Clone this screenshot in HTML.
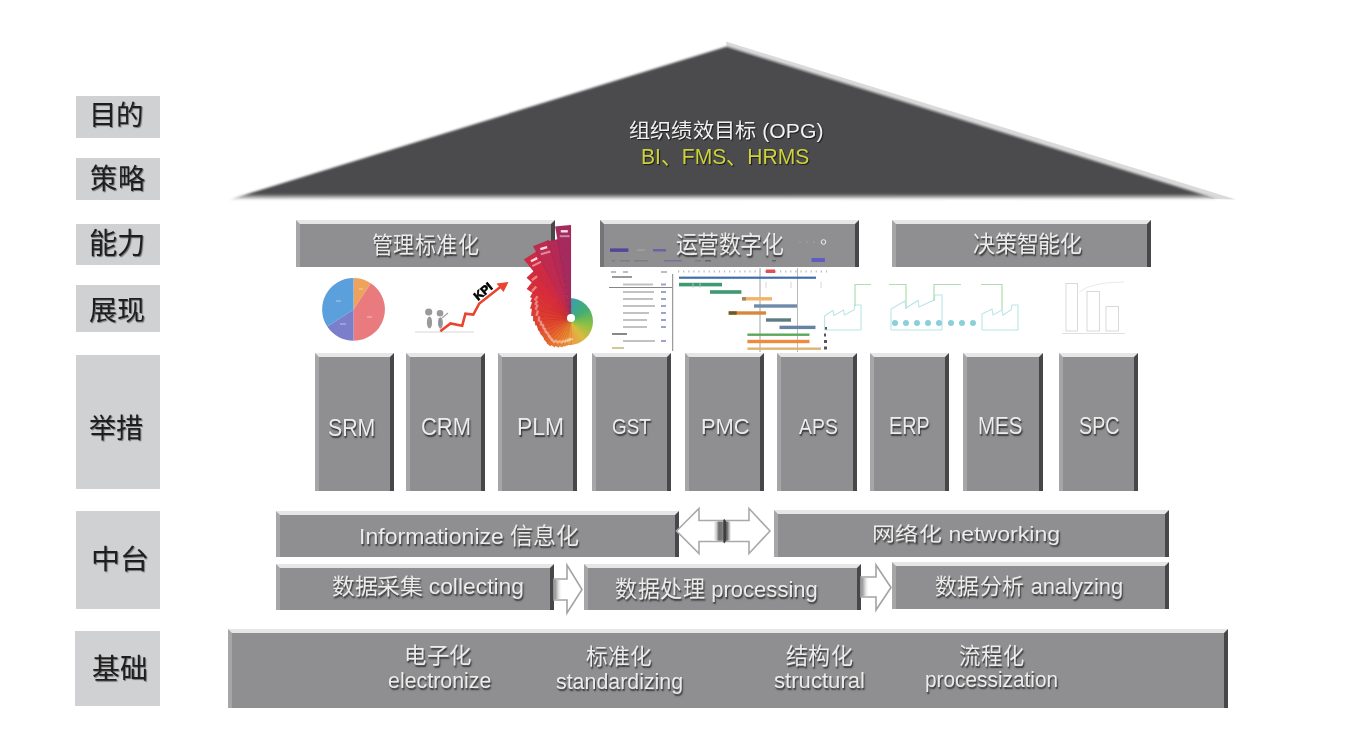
<!DOCTYPE html>
<html lang="zh-CN">
<head>
<meta charset="utf-8">
<style>
html,body{margin:0;padding:0;background:#fff;}
body{width:1348px;height:753px;position:relative;overflow:hidden;font-family:"Liberation Sans",sans-serif;}
#wrap{position:absolute;left:0;top:0;width:1348px;height:753px;filter:blur(0.4px);}
.a{position:absolute;left:0;top:0;}
.t{position:absolute;line-height:1;white-space:nowrap;transform-origin:0 0;}
.lab{position:absolute;background:#d0d1d3;}
.bx{position:absolute;box-sizing:border-box;background:#8f8f91;border-top:4px solid #e6e6e7;border-left:4px solid #a6a6a8;border-right:4px solid #47474a;}
</style>
</head>
<body>
<div id="wrap">
<div class="lab" style="left:76px;top:96px;width:84px;height:42px;"></div>
<div class="lab" style="left:76px;top:158px;width:84px;height:42px;"></div>
<div class="lab" style="left:76px;top:224px;width:84px;height:41px;"></div>
<div class="lab" style="left:76px;top:285px;width:84px;height:47px;"></div>
<div class="lab" style="left:76px;top:355px;width:84px;height:134px;"></div>
<div class="lab" style="left:76px;top:511px;width:84px;height:98px;"></div>
<div class="lab" style="left:75px;top:631px;width:85px;height:75px;"></div>
<div class="t" style="left:89.0px;top:102.25px;font-size:27.5px;font-weight:500;color:#1e1e1e;text-shadow:1px 1px 1px rgba(0,0,0,.45);transform:scaleX(1.0);">目的</div>
<div class="t" style="left:89.55px;top:164.75px;font-size:28.5px;font-weight:500;color:#1e1e1e;text-shadow:1px 1px 1px rgba(0,0,0,.45);transform:scaleX(0.9545);">策略</div>
<div class="t" style="left:89.05px;top:230.0px;font-size:29.0px;font-weight:500;color:#1e1e1e;text-shadow:1px 1px 1px rgba(0,0,0,.45);transform:scaleX(0.9755);">能力</div>
<div class="t" style="left:89.48px;top:297.0px;font-size:27.5px;font-weight:500;color:#1e1e1e;text-shadow:1px 1px 1px rgba(0,0,0,.45);transform:scaleX(1.0192);">展现</div>
<div class="t" style="left:89.02px;top:414.5px;font-size:27.75px;font-weight:500;color:#1e1e1e;text-shadow:1px 1px 1px rgba(0,0,0,.45);transform:scaleX(0.9759);">举措</div>
<div class="t" style="left:91.24px;top:547.4px;font-size:26.75px;font-weight:500;color:#1e1e1e;text-shadow:1px 1px 1px rgba(0,0,0,.45);transform:scaleX(1.0875);">中台</div>
<div class="t" style="left:91.51px;top:656.25px;font-size:28.0px;font-weight:500;color:#1e1e1e;text-shadow:1px 1px 1px rgba(0,0,0,.45);transform:scaleX(0.9943);">基础</div>
<svg class="a" width="1348" height="215" style="position:absolute">
<defs>
<linearGradient id="bot" x1="0" y1="0" x2="0" y2="1"><stop offset="0" stop-color="#4b4c4e" stop-opacity="1"/><stop offset="1" stop-color="#4b4c4e" stop-opacity="0"/></linearGradient>
<filter id="bl" x="-5%" y="-5%" width="110%" height="110%"><feGaussianBlur stdDeviation="0.8"/></filter>
</defs>
<linearGradient id="tf" gradientUnits="userSpaceOnUse" x1="0" y1="0" x2="0" y2="200"><stop offset="0.968" stop-color="#4b4c4e"/><stop offset="1" stop-color="#4b4c4e" stop-opacity="0"/></linearGradient>
<polygon points="726,41.5 1236,199.5 1212,199 726.7,46.5" fill="#dadada"/>
<polygon points="228,200 726.7,46.5 1217,199" fill="url(#tf)" filter="url(#bl)"/>
</svg>
<div class="t" style="left:628.94px;top:120.5px;font-size:20.0px;font-weight:400;color:#f2f2f2;text-shadow:1px 1px 1px #1a1a1a;transform:scaleX(1.0608);">组织绩效目标 (OPG)</div>
<div class="t" style="left:641.1px;top:146.0px;font-size:22.25px;font-weight:400;color:#cdd23c;text-shadow:1px 1px 1px #1a1a1a;transform:scaleX(0.9486);">BI、FMS、HRMS</div>
<svg class="a" width="1348" height="753" style="position:absolute"><path d="M353.5,309.4 L353.50,278.00 A31.4,31.4 0 0 1 370.88,283.25 Z" fill="#eda35c"/><path d="M353.5,309.4 L370.88,283.25 A31.4,31.4 0 0 1 353.50,340.80 Z" fill="#e97b7f"/><path d="M353.5,309.4 L353.50,340.80 A31.4,31.4 0 0 1 327.23,326.59 Z" fill="#7b7fcb"/><path d="M353.5,309.4 L327.23,326.59 A31.4,31.4 0 0 1 353.50,278.00 Z" fill="#5b9fdc"/><g fill="#fff" opacity="0.25"><rect x="336" y="300" width="5" height="2"/><rect x="359" y="288" width="4" height="2"/><rect x="367" y="316" width="5" height="2"/><rect x="340" y="323" width="6" height="2"/></g><line x1="415" y1="332" x2="474" y2="332" stroke="#d6d6d6" stroke-width="1"/><g fill="#9a9a9a"><circle cx="428.7" cy="312" r="3.6"/><ellipse cx="429.5" cy="322.5" rx="2.6" ry="6"/><circle cx="440" cy="313.3" r="3.3"/><ellipse cx="440.5" cy="323" rx="2.4" ry="5.8"/></g><path d="M442,318 L448,313" stroke="#9aaaa0" stroke-width="1.2"/><rect x="438.5" y="318" width="2" height="8" fill="#8a86b8" opacity="0.7"/><polyline points="440.3,331.3 450.5,323.4 462.2,325.8 465.4,313.7 473.3,314.6 479.3,303.5 501,286.5" fill="none" stroke="#e9442f" stroke-width="2.6" stroke-linejoin="miter"/><polygon points="508.5,282 496.5,283.5 503.5,292" fill="#e9442f"/><text x="0" y="0" transform="translate(478,301) rotate(-40)" font-family="Liberation Sans" font-weight="700" font-size="12" fill="#000" stroke="#000" stroke-width="0.7">KPI</text><line x1="672.7" y1="274" x2="672.7" y2="351" stroke="#777" stroke-width="0.9"/><line x1="609" y1="287.5" x2="672" y2="287.5" stroke="#666" stroke-width="0.8"/><line x1="760" y1="268" x2="760" y2="352" stroke="#8a8a8a" stroke-width="0.8"/><line x1="797.5" y1="268" x2="797.5" y2="352" stroke="#aaa" stroke-width="0.8"/><rect x="678.0" y="270.5" width="1.2" height="2" fill="#bbb"/><rect x="683.1" y="270.5" width="1.2" height="2" fill="#bbb"/><rect x="688.2" y="270.5" width="1.2" height="2" fill="#bbb"/><rect x="693.3" y="270.5" width="1.2" height="2" fill="#bbb"/><rect x="698.4" y="270.5" width="1.2" height="2" fill="#bbb"/><rect x="703.5" y="270.5" width="1.2" height="2" fill="#bbb"/><rect x="708.6" y="270.5" width="1.2" height="2" fill="#bbb"/><rect x="713.7" y="270.5" width="1.2" height="2" fill="#bbb"/><rect x="718.8" y="270.5" width="1.2" height="2" fill="#bbb"/><rect x="723.9" y="270.5" width="1.2" height="2" fill="#bbb"/><rect x="729.0" y="270.5" width="1.2" height="2" fill="#bbb"/><rect x="734.1" y="270.5" width="1.2" height="2" fill="#bbb"/><rect x="739.2" y="270.5" width="1.2" height="2" fill="#bbb"/><rect x="744.3" y="270.5" width="1.2" height="2" fill="#bbb"/><rect x="749.4" y="270.5" width="1.2" height="2" fill="#bbb"/><rect x="754.5" y="270.5" width="1.2" height="2" fill="#bbb"/><rect x="759.6" y="270.5" width="1.2" height="2" fill="#bbb"/><rect x="764.7" y="270.5" width="1.2" height="2" fill="#bbb"/><rect x="769.8" y="270.5" width="1.2" height="2" fill="#bbb"/><rect x="774.9" y="270.5" width="1.2" height="2" fill="#bbb"/><rect x="780.0" y="270.5" width="1.2" height="2" fill="#bbb"/><rect x="785.1" y="270.5" width="1.2" height="2" fill="#bbb"/><rect x="790.2" y="270.5" width="1.2" height="2" fill="#bbb"/><rect x="795.3" y="270.5" width="1.2" height="2" fill="#bbb"/><rect x="800.4" y="270.5" width="1.2" height="2" fill="#bbb"/><rect x="805.5" y="270.5" width="1.2" height="2" fill="#bbb"/><rect x="810.6" y="270.5" width="1.2" height="2" fill="#bbb"/><rect x="815.7" y="270.5" width="1.2" height="2" fill="#bbb"/><rect x="820.8" y="270.5" width="1.2" height="2" fill="#bbb"/><rect x="825.9" y="270.5" width="1.2" height="2" fill="#bbb"/><rect x="766" y="269.5" width="9" height="3.5" fill="#e05050"/><g fill="#bdbdbd"><rect x="611" y="271" width="5" height="2"/><rect x="623" y="271" width="5" height="2"/><rect x="661" y="271" width="6" height="2"/></g><rect x="612" y="276" width="20" height="2" fill="#999"/><rect x="623" y="283.5" width="30" height="2" fill="#c2c2c2"/><rect x="661" y="283.5" width="5" height="2" fill="#9aa3c8"/><rect x="623" y="291" width="31" height="2" fill="#c2c2c2"/><rect x="661" y="291" width="5" height="2" fill="#9aa3c8"/><rect x="623" y="298" width="30" height="2" fill="#c2c2c2"/><rect x="661" y="298" width="5" height="2" fill="#9aa3c8"/><rect x="623" y="305" width="32" height="2" fill="#c2c2c2"/><rect x="661" y="305" width="5" height="2" fill="#9aa3c8"/><rect x="623" y="312" width="26" height="2" fill="#c2c2c2"/><rect x="661" y="312" width="5" height="2" fill="#9aa3c8"/><rect x="623" y="319" width="24" height="2" fill="#c2c2c2"/><rect x="661" y="319" width="5" height="2" fill="#9aa3c8"/><rect x="623" y="326" width="24" height="2" fill="#c2c2c2"/><rect x="661" y="326" width="5" height="2" fill="#9aa3c8"/><rect x="612" y="333" width="15" height="2" fill="#888"/><rect x="623" y="340" width="32" height="2" fill="#c2c2c2"/><rect x="661" y="340" width="5" height="2" fill="#9aa3c8"/><rect x="612" y="347" width="12" height="2" fill="#cc9"/><rect x="679" y="276.60" width="137.0" height="2.2" fill="#3f6ea9"/><rect x="679" y="282.80" width="43.0" height="3.6" fill="#3d9a72"/><rect x="710" y="290.20" width="31.4" height="3.6" fill="#3f9a74"/><rect x="742" y="297.10" width="30.0" height="3.4" fill="#f2b466"/><rect x="754" y="304.30" width="43.0" height="3.4" fill="#6f8bab"/><rect x="728.7" y="311.30" width="37.3" height="3.4" fill="#d8863a"/><rect x="766" y="318.30" width="25.0" height="3.4" fill="#5b7c80"/><rect x="779.5" y="325.70" width="36.0" height="3.4" fill="#6583a3"/><rect x="747.4" y="333.50" width="62.1" height="2.4" fill="#5aa85a"/><rect x="747.4" y="339.80" width="62.1" height="3.4" fill="#ec8c3c"/><rect x="747.4" y="347.50" width="73.6" height="2.4" fill="#dcb474"/><rect x="728.7" y="311.3" width="8" height="3.4" fill="#6a5a2a"/><rect x="742" y="297.1" width="4" height="3.4" fill="#9a8a6a"/><g fill="#555"><rect x="824" y="327" width="3" height="3"/><rect x="824" y="333.5" width="2" height="3"/><rect x="824" y="340" width="3" height="3"/><rect x="824" y="346.5" width="3" height="3"/></g><line x1="693" y1="282" x2="693" y2="288" stroke="#ccc" stroke-width="0.8"/><line x1="700" y1="282" x2="700" y2="288" stroke="#ccc" stroke-width="0.8"/><line x1="766" y1="282" x2="766" y2="288" stroke="#ccc" stroke-width="0.8"/><line x1="791" y1="282" x2="791" y2="288" stroke="#ccc" stroke-width="0.8"/><line x1="821" y1="282" x2="821" y2="288" stroke="#ccc" stroke-width="0.8"/><polyline points="824.5,330 824.5,316 833,310.5 834,315.5 843.5,310 844.5,315 854,310 855,305 861,305 861,330 824.5,330" fill="none" stroke="#b8e6e8" stroke-width="1.1"/><polyline points="855,306 855,284.5 871,284.5" fill="none" stroke="#b0dcb0" stroke-width="1.2"/><polyline points="889,284.5 906,284.5 906,309" fill="none" stroke="#b0dcb0" stroke-width="1.2"/><polyline points="891,330 891,309 905,301 906,308 918,300.5 919,307 934,300 935,295 942,295 942,330 891,330" fill="none" stroke="#b8e6e8" stroke-width="1.1"/><polyline points="934,301 934,284.5 961,284.5" fill="none" stroke="#b0dcb0" stroke-width="1.2"/><polyline points="981,284.5 1002,284.5 1002,310" fill="none" stroke="#b0dcb0" stroke-width="1.2"/><circle cx="895" cy="323" r="3" fill="#8ccfd9"/><circle cx="906" cy="323" r="3" fill="#8ccfd9"/><circle cx="917" cy="323" r="3" fill="#8ccfd9"/><circle cx="928" cy="323" r="3" fill="#8ccfd9"/><circle cx="939" cy="323" r="3" fill="#8ccfd9"/><circle cx="951" cy="323" r="3" fill="#8ccfd9"/><circle cx="962" cy="323" r="3" fill="#8ccfd9"/><circle cx="973" cy="323" r="3" fill="#8ccfd9"/><polyline points="982,330 982,314 992,309 993,315 1002,310 1003,315 1011,310 1012,305 1018,305 1018,330 982,330" fill="none" stroke="#b8e6e8" stroke-width="1.1"/><rect x="1066" y="283.5" width="11.5" height="47.5" fill="none" stroke="#d9d9d9" stroke-width="1"/><rect x="1087" y="291.5" width="12.5" height="39.5" fill="none" stroke="#d9d9d9" stroke-width="1"/><rect x="1106" y="306.5" width="12.5" height="24.5" fill="none" stroke="#d9d9d9" stroke-width="1"/><line x1="1062" y1="333.5" x2="1125" y2="333.5" stroke="#e0e0e0" stroke-width="1.2"/><path d="M1079,292 Q1092,282 1124,282" fill="none" stroke="#e6e6e6" stroke-width="0.9"/></svg>
<div class="bx" style="left:296px;top:220px;width:259px;height:47px;"></div>
<div class="bx" style="left:600px;top:220px;width:259px;height:47px;border-left-color:#747476;"></div>
<div class="bx" style="left:892px;top:220px;width:259px;height:47px;"></div>
<div style="position:absolute;left:545.5px;top:297.5px;width:47px;height:47px;border-radius:50%;background:conic-gradient(from 0deg,#3a9fb0,#45ae70 55deg,#8cc044 100deg,#d8bc40 140deg,#f09844 180deg,#e8703a 230deg,#d83a3a 300deg,#3a9fb0)"></div>
<svg class="a" width="1348" height="753" style="position:absolute"><polygon points="571,318 567.2,344.7 571.4,345.0" fill="#f09a38" stroke="rgba(120,20,30,0.18)" stroke-width="0.6"/><rect x="566.0" y="337.7" width="7" height="2.4" fill="#fff" opacity="0.4" transform="rotate(-172 569.5 338.9)"/><polygon points="571,318 565.2,345.3 567.5,345.7" fill="#ef9536" stroke="rgba(120,20,30,0.18)" stroke-width="0.6"/><rect x="563.8" y="338.4" width="7" height="2.4" fill="#fff" opacity="0.4" transform="rotate(-168 567.3 339.6)"/><polygon points="571,318 562.5,345.7 565.4,346.4" fill="#ee8f34" stroke="rgba(120,20,30,0.18)" stroke-width="0.6"/><rect x="561.8" y="339.1" width="7" height="2.4" fill="#fff" opacity="0.4" transform="rotate(-163 565.3 340.3)"/><polygon points="571,318 559.1,346.0 562.5,347.2" fill="#ed8832" stroke="rgba(120,20,30,0.18)" stroke-width="0.6"/><rect x="559.2" y="339.7" width="7" height="2.4" fill="#fff" opacity="0.4" transform="rotate(-157 562.7 340.9)"/><polygon points="571,318 555.0,345.7 558.9,347.6" fill="#ec8030" stroke="rgba(120,20,30,0.18)" stroke-width="0.6"/><rect x="555.9" y="340.1" width="7" height="2.4" fill="#fff" opacity="0.4" transform="rotate(-150 559.4 341.3)"/><polygon points="571,318 550.8,344.8 554.7,347.2" fill="#ea772f" stroke="rgba(120,20,30,0.18)" stroke-width="0.6"/><rect x="552.3" y="339.7" width="7" height="2.4" fill="#fff" opacity="0.4" transform="rotate(-143 555.8 340.9)"/><polygon points="571,318 546.7,343.2 550.3,346.2" fill="#e96e2f" stroke="rgba(120,20,30,0.18)" stroke-width="0.6"/><rect x="548.7" y="338.9" width="7" height="2.4" fill="#fff" opacity="0.4" transform="rotate(-136 552.2 340.1)"/><polygon points="571,318 543.8,339.3 547.4,343.2" fill="#e7642e" stroke="rgba(120,20,30,0.18)" stroke-width="0.6"/><rect x="546.3" y="335.9" width="7" height="2.4" fill="#fff" opacity="0.4" transform="rotate(-128 549.8 337.1)"/><polygon points="571,318 541.3,334.5 544.5,339.3" fill="#e5592e" stroke="rgba(120,20,30,0.18)" stroke-width="0.6"/><rect x="544.1" y="332.2" width="7" height="2.4" fill="#fff" opacity="0.4" transform="rotate(-119 547.6 333.4)"/><polygon points="571,318 538.6,329.8 541.1,335.1" fill="#e4512e" stroke="rgba(120,20,30,0.18)" stroke-width="0.6"/><rect x="541.5" y="328.6" width="7" height="2.4" fill="#fff" opacity="0.4" transform="rotate(-110 545.0 329.8)"/><polygon points="571,318 536.6,324.7 538.3,330.4" fill="#e2492f" stroke="rgba(120,20,30,0.18)" stroke-width="0.6"/><rect x="539.5" y="324.5" width="7" height="2.4" fill="#fff" opacity="0.4" transform="rotate(-101 543.0 325.7)"/><polygon points="571,318 534.7,320.5 535.4,325.4" fill="#e0432f" stroke="rgba(120,20,30,0.18)" stroke-width="0.6"/><rect x="537.4" y="320.8" width="7" height="2.4" fill="#fff" opacity="0.4" transform="rotate(-94 540.9 322.0)"/><polygon points="571,318 533.1,315.3 533.1,321.2" fill="#df3e30" stroke="rgba(120,20,30,0.18)" stroke-width="0.6"/><rect x="535.5" y="316.8" width="7" height="2.4" fill="#fff" opacity="0.4" transform="rotate(-86 539.0 318.0)"/><polygon points="571,318 532.1,308.3 531.0,315.8" fill="#de3a31" stroke="rgba(120,20,30,0.18)" stroke-width="0.6"/><rect x="533.8" y="311.4" width="7" height="2.4" fill="#fff" opacity="0.4" transform="rotate(-76 537.3 312.6)"/><polygon points="571,318 532.3,301.6 530.1,308.4" fill="#dc3633" stroke="rgba(120,20,30,0.18)" stroke-width="0.6"/><rect x="533.4" y="305.3" width="7" height="2.4" fill="#fff" opacity="0.4" transform="rotate(-67 536.9 306.5)"/><polygon points="571,318 532.3,297.4 530.4,301.4" fill="#dc3433" stroke="rgba(120,20,30,0.18)" stroke-width="0.6"/><rect x="533.3" y="300.6" width="7" height="2.4" fill="#fff" opacity="0.4" transform="rotate(-62 536.8 301.8)"/><polygon points="571,318 532.9,292.3 530.1,297.0" fill="#db3235" stroke="rgba(120,20,30,0.18)" stroke-width="0.6"/><rect x="533.2" y="296.2" width="7" height="2.4" fill="#fff" opacity="0.4" transform="rotate(-56 536.7 297.4)"/><polygon points="571,318 532.2,281.9 526.7,289.0" fill="#d92e37" stroke="rgba(120,20,30,0.18)" stroke-width="0.6"/><rect x="530.8" y="287.5" width="7" height="2.4" fill="#fff" opacity="0.4" transform="rotate(-47 534.3 288.7)"/><polygon points="571,318 534.1,270.7 526.6,277.7" fill="#d62b3b" stroke="rgba(120,20,30,0.18)" stroke-width="0.6"/><rect x="531.1" y="276.9" width="7" height="2.4" fill="#fff" opacity="0.4" transform="rotate(-38 534.6 278.1)"/><polygon points="571,318 537.0,251.2 524.0,259.5" fill="#ce2a44" stroke="rgba(120,20,30,0.18)" stroke-width="0.6"/><rect x="530.6" y="258.5" width="7" height="2.4" fill="#fff" opacity="0.85" transform="rotate(-27 534.1 259.7)"/><rect x="531.8" y="262.9" width="10" height="2" fill="#fff" opacity="0.45" transform="rotate(-27 536.8 263.9)"/><polygon points="571,318 548.7,240.1 533.2,246.3" fill="#be2a50" stroke="rgba(120,20,30,0.18)" stroke-width="0.6"/><rect x="540.2" y="246.9" width="7" height="2.4" fill="#fff" opacity="0.85" transform="rotate(-16 543.7 248.1)"/><rect x="540.6" y="251.8" width="10" height="2" fill="#fff" opacity="0.45" transform="rotate(-16 545.6 252.8)"/><polygon points="571,318 558.5,239.0 547.9,241.4" fill="#b32a56" stroke="rgba(120,20,30,0.18)" stroke-width="0.6"/><polygon points="571,318 571.0,225.0 555.2,226.4" fill="#a52a5e" stroke="rgba(120,20,30,0.18)" stroke-width="0.6"/><rect x="560.8" y="230.1" width="7" height="2.4" fill="#fff" opacity="0.85" transform="rotate(0 564.3 231.3)"/><rect x="559.7" y="235.2" width="10" height="2" fill="#fff" opacity="0.45" transform="rotate(0 564.7 236.2)"/></svg>
<div style="position:absolute;left:567px;top:314px;width:8px;height:8px;border-radius:50%;background:#fff"></div>
<svg class="a" width="1348" height="753" style="position:absolute"><rect x="610" y="248.4" width="18.4" height="3.5" fill="#4a3f98" opacity="0.9"/><rect x="653" y="249" width="13" height="2.5" fill="#5a50a8" opacity="0.7"/><rect x="637" y="249.3" width="8" height="1.6" fill="#aaa" opacity="0.6"/><rect x="811.5" y="258" width="13.4" height="4" fill="#5a58c8" opacity="0.9"/><g fill="#777" opacity="0.7"><rect x="612" y="260" width="3" height="1.5"/><rect x="620" y="260" width="10" height="1.5"/><rect x="634" y="260" width="14" height="1.5"/><rect x="664" y="260" width="18" height="1.5" fill="#6a6aa0"/><rect x="695" y="260" width="6" height="1.5"/><rect x="705" y="260" width="6" height="1.5" fill="#555"/><rect x="772" y="260" width="4" height="1.5" fill="#555"/></g><circle cx="823.5" cy="242" r="2.3" fill="none" stroke="#eee" stroke-width="1"/><g fill="#aaa" opacity="0.6"><rect x="799" y="241.5" width="2" height="1.2"/><rect x="806" y="241.5" width="2" height="1.2"/><rect x="813" y="241.5" width="2" height="1.2"/></g></svg>
<div class="bx" style="left:314.5px;top:352.5px;width:79.5px;height:138.5px;"></div>
<div class="bx" style="left:405.5px;top:352.5px;width:79.5px;height:138.5px;"></div>
<div class="bx" style="left:497.5px;top:352.5px;width:79.5px;height:138.5px;"></div>
<div class="bx" style="left:591.5px;top:352.5px;width:79.5px;height:138.5px;"></div>
<div class="bx" style="left:685px;top:352.5px;width:79px;height:138.5px;"></div>
<div class="bx" style="left:777px;top:352.5px;width:80px;height:138.5px;"></div>
<div class="bx" style="left:870px;top:352.5px;width:79px;height:138.5px;"></div>
<div class="bx" style="left:963px;top:352.5px;width:80px;height:138.5px;"></div>
<div class="bx" style="left:1058.5px;top:352.5px;width:79.5px;height:138.5px;"></div>
<div class="bx" style="left:276px;top:510.5px;width:402.5px;height:46.5px;"></div>
<div class="bx" style="left:774px;top:509.5px;width:395px;height:47px;"></div>
<div class="bx" style="left:276px;top:563.5px;width:278px;height:46.5px;"></div>
<div class="bx" style="left:583.5px;top:563.5px;width:277.5px;height:46.5px;"></div>
<div class="bx" style="left:892px;top:562px;width:277px;height:46.5px;"></div>
<div class="bx" style="left:228px;top:629px;width:1000px;height:79px;"></div>
<svg class="a" width="1348" height="753" style="position:absolute">
<defs>
<linearGradient id="mg" x1="0" y1="0" x2="1" y2="0">
<stop offset="0" stop-color="#fff"/><stop offset="0.18" stop-color="#c8c8c8"/><stop offset="0.3" stop-color="#6e6e6e"/><stop offset="0.5" stop-color="#7a7a7a"/><stop offset="0.56" stop-color="#9a9a9a"/><stop offset="0.62" stop-color="#4a4a4a"/><stop offset="0.78" stop-color="#6a6a6a"/><stop offset="1" stop-color="#fff"/>
</linearGradient>
<linearGradient id="sg" x1="0" y1="0" x2="1" y2="0">
<stop offset="0" stop-color="#8a8a8a"/><stop offset="0.4" stop-color="#cfcfcf"/><stop offset="1" stop-color="#fff" stop-opacity="0"/>
</linearGradient>
</defs>
<polygon points="676.5,531 699,508.5 699,520.5 749,520.5 749,508.5 770,531 749,553.5 749,541.5 699,541.5 699,553.5" fill="#fff" stroke="#a9a9a9" stroke-width="1.6" stroke-linejoin="miter"/>
<rect x="713.5" y="521.5" width="17.5" height="19.2" fill="url(#mg)"/>
<polygon points="723.3,520 724.3,519 726,521 726,541 724.3,543.5 723.3,542" fill="#3f3f3f"/>
<polygon points="554,579 567,579 567,565 582,589.5 567,613 567,600 554,600" fill="#fff" stroke="#a3a3a3" stroke-width="1.6"/>
<rect x="554.5" y="579.8" width="8" height="19.4" fill="url(#sg)"/>
<polygon points="861,577 876,577 876,565 891,587.5 876,610 876,597 861,597" fill="#fff" stroke="#a3a3a3" stroke-width="1.6"/>
<rect x="861.5" y="577.8" width="8" height="18.4" fill="url(#sg)"/>
</svg>
<div class="t" style="left:371.57px;top:235.0px;font-size:22.5px;font-weight:400;color:#ececec;text-shadow:1px 1.5px 1.5px rgba(35,35,35,0.85);transform:scaleX(0.9336);">管理标准化</div>
<div class="t" style="left:676.07px;top:233.5px;font-size:23.5px;font-weight:400;color:#ececec;text-shadow:1px 1.5px 1.5px rgba(35,35,35,0.85);transform:scaleX(0.9298);">运营数字化</div>
<div class="t" style="left:973.01px;top:233.5px;font-size:22.25px;font-weight:400;color:#ececec;text-shadow:1px 1.5px 1.5px rgba(35,35,35,0.85);transform:scaleX(0.9907);">决策智能化</div>
<div class="t" style="left:328.09px;top:416.85px;font-size:23.5px;font-weight:400;color:#ececec;text-shadow:1px 1.5px 1.5px rgba(35,35,35,0.85);transform:scaleX(0.9061);">SRM</div>
<div class="t" style="left:421.46px;top:416.45px;font-size:23.25px;font-weight:400;color:#ececec;text-shadow:1px 1.5px 1.5px rgba(35,35,35,0.85);transform:scaleX(0.944);">CRM</div>
<div class="t" style="left:516.89px;top:415.45px;font-size:24.0px;font-weight:400;color:#ececec;text-shadow:1px 1.5px 1.5px rgba(35,35,35,0.85);transform:scaleX(0.9533);">PLM</div>
<div class="t" style="left:612.02px;top:417.45px;font-size:21.5px;font-weight:400;color:#ececec;text-shadow:1px 1.5px 1.5px rgba(35,35,35,0.85);transform:scaleX(0.8791);">GST</div>
<div class="t" style="left:700.51px;top:416.3px;font-size:22.0px;font-weight:400;color:#ececec;text-shadow:1px 1.5px 1.5px rgba(35,35,35,0.85);transform:scaleX(0.9957);">PMC</div>
<div class="t" style="left:799.0px;top:415.95px;font-size:22.5px;font-weight:400;color:#ececec;text-shadow:1px 1.5px 1.5px rgba(35,35,35,0.85);transform:scaleX(0.8636);">APS</div>
<div class="t" style="left:888.82px;top:415.35px;font-size:23.5px;font-weight:400;color:#ececec;text-shadow:1px 1.5px 1.5px rgba(35,35,35,0.85);transform:scaleX(0.84);">ERP</div>
<div class="t" style="left:978.21px;top:415.15px;font-size:23.0px;font-weight:400;color:#ececec;text-shadow:1px 1.5px 1.5px rgba(35,35,35,0.85);transform:scaleX(0.8936);">MES</div>
<div class="t" style="left:1078.54px;top:414.95px;font-size:23.0px;font-weight:400;color:#ececec;text-shadow:1px 1.5px 1.5px rgba(35,35,35,0.85);transform:scaleX(0.8556);">SPC</div>
<div class="t" style="left:359.23px;top:525.5px;font-size:22.25px;font-weight:400;color:#ececec;text-shadow:1px 1.5px 1.5px rgba(35,35,35,0.85);transform:scaleX(1.0368);">Informationize 信息化</div>
<div class="t" style="left:872.26px;top:525.0px;font-size:19.75px;font-weight:400;color:#ececec;text-shadow:1px 1.5px 1.5px rgba(35,35,35,0.85);transform:scaleX(1.1684);">网络化 networking</div>
<div class="t" style="left:331.92px;top:577.0px;font-size:21.25px;font-weight:400;color:#ececec;text-shadow:1px 1.5px 1.5px rgba(35,35,35,0.85);transform:scaleX(1.0756);">数据采集 collecting</div>
<div class="t" style="left:615.02px;top:579.25px;font-size:22.5px;font-weight:400;color:#ececec;text-shadow:1px 1.5px 1.5px rgba(35,35,35,0.85);transform:scaleX(0.9795);">数据处理 processing</div>
<div class="t" style="left:934.68px;top:576.85px;font-size:21.5px;font-weight:400;color:#ececec;text-shadow:1px 1.5px 1.5px rgba(35,35,35,0.85);transform:scaleX(1.0181);">数据分析 analyzing</div>
<div class="t" style="left:404.43px;top:645.25px;font-size:22.0px;font-weight:400;color:#ececec;text-shadow:1px 1.5px 1.5px rgba(35,35,35,0.85);transform:scaleX(1.0242);">电子化</div>
<div class="t" style="left:388.0px;top:671.0px;font-size:21.5px;font-weight:400;color:#ececec;text-shadow:1px 1.5px 1.5px rgba(35,35,35,0.85);transform:scaleX(0.9951);">electronize</div>
<div class="t" style="left:586.0px;top:646.3px;font-size:21.75px;font-weight:400;color:#ececec;text-shadow:1px 1.5px 1.5px rgba(35,35,35,0.85);transform:scaleX(1.0);">标准化</div>
<div class="t" style="left:555.79px;top:671.5px;font-size:21.25px;font-weight:400;color:#ececec;text-shadow:1px 1.5px 1.5px rgba(35,35,35,0.85);transform:scaleX(1.0056);">standardizing</div>
<div class="t" style="left:786.03px;top:644.5px;font-size:22.75px;font-weight:400;color:#ececec;text-shadow:1px 1.5px 1.5px rgba(35,35,35,0.85);transform:scaleX(0.9701);">结构化</div>
<div class="t" style="left:773.97px;top:671.0px;font-size:21.5px;font-weight:400;color:#ececec;text-shadow:1px 1.5px 1.5px rgba(35,35,35,0.85);transform:scaleX(1.0291);">structural</div>
<div class="t" style="left:959.05px;top:646.4px;font-size:22.5px;font-weight:400;color:#ececec;text-shadow:1px 1.5px 1.5px rgba(35,35,35,0.85);transform:scaleX(0.9478);">流程化</div>
<div class="t" style="left:925.06px;top:669.0px;font-size:22.25px;font-weight:400;color:#ececec;text-shadow:1px 1.5px 1.5px rgba(35,35,35,0.85);transform:scaleX(0.9357);">processization</div>
</div>
</body>
</html>
